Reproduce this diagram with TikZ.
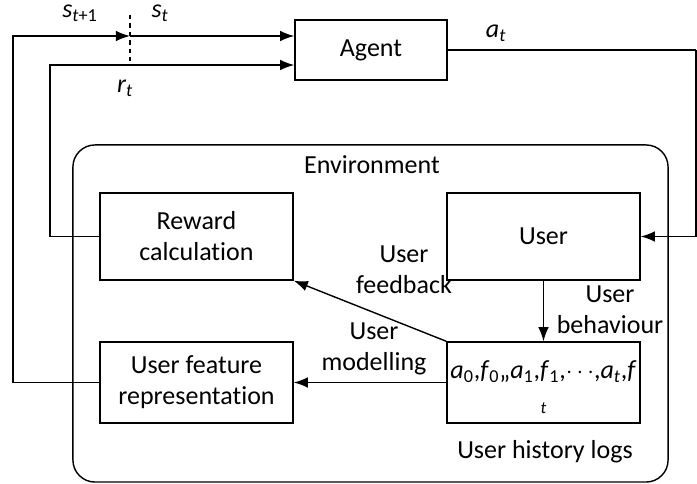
\documentclass[tikz,border=0pt]{standalone}
\usepackage{fontspec}
\setmainfont{Carlito}[Ligatures=NoCommon]
\usepackage{tikz}
\usetikzlibrary{arrows.meta,positioning}
\newcommand{\vsub}[2]{\textit{#1}\textsubscript{#2}}

\begin{document}
\begin{tikzpicture}[
  x=0.025cm, y=-0.025cm,
  every node/.style = {font=\fontsize{18.5}{22}\selectfont},
  %--- node styles ---------------------------------------------------
  boxst/.style  = {draw, rectangle, line width=1pt,
                   minimum width=4.825cm, minimum height=2.175cm,
                   align=center},
  agentst/.style = {draw, rectangle, line width=1pt,
                   minimum width=3.8cm, minimum height=1.5cm},
  envst/.style  = {draw, rectangle, rounded corners=0.55cm, line width=1pt,
                   minimum width=14.875cm, minimum height=8.425cm},
  lbl/.style    = {align=center, inner sep=0pt},
  arr/.style    = {-{Latex[length=10pt,width=7.5pt]}, line width=1pt},
  ln/.style     = {line width=1pt},
]
\useasboundingbox (0,0) rectangle (697,484);

% ---- Nodes --------------------------------------------------------
\node[envst] (env) at (370.5,313.5) {};
\node[lbl] (envlbl) at (372,165) {Environment};

\node[agentst] (agent) at (371,50) {Agent};

\node[boxst] (reward) at (196.5,236.5) {Reward\\calculation};
\node[boxst] (user)   at (543.5,236.5) {User};
\node[boxst, minimum height=2.025cm] (feat) at (196.5,382.5)
    {User feature\\representation};
\node[boxst, minimum height=2.025cm] (hist) at (543.5,382.5) {};
\node[lbl] (histtxt) at (543.5,372)
    {\vsub{a}{0},\vsub{f}{0},,\vsub{a}{1},\vsub{f}{1},$\cdots$,\vsub{a}{\textit{t}},\textit{f}};
\node[lbl, font=\fontsize{12}{14}\selectfont] (histt) at (543.5,408) {\textit{t}};
\node[lbl] (histlbl) at (545,452) {User history logs};

% ---- Labels -------------------------------------------------------
\node[lbl] (snext) at (80,13)  {\textit{s}\textsubscript{\textit{t}+1}};
\node[lbl] (scur)  at (160,13) {\vsub{s}{\textit{t}}};
\node[lbl] (rlbl)  at (125,88) {\vsub{r}{\textit{t}}};
\node[lbl] (albl)  at (496,33) {\vsub{a}{\textit{t}}};
\node[lbl] (fblbl) at (404,270) {User\\feedback};
\node[lbl] (bhlbl) at (610,310) {User\\behaviour};
\node[lbl] (mdlbl) at (374,349) {User\\modelling};

% ---- Coordinates --------------------------------------------------
\coordinate (cut)   at (130,36);
\coordinate (rtop)  at (50,65);
\coordinate (right) at (696,50);

% ---- Arrows -------------------------------------------------------
\draw[ln, dashed] (130,15) -- (130,65);
\draw[arr] (feat.west) -- (13,382.5) |- (cut);
\draw[arr] (cut) -- (agent.west |- cut);
\draw[arr] (reward.west) -| (rtop) -- (agent.west |- rtop);
\draw[ln] (agent.east) -- (right);
\draw[arr] (right) |- (user.east);
\draw[arr] (user.south) -- (hist.north);
\draw[arr] (hist.north west) -- (reward.south east);
\draw[arr] (hist.west) -- (feat.east);

\end{tikzpicture}
\end{document}
